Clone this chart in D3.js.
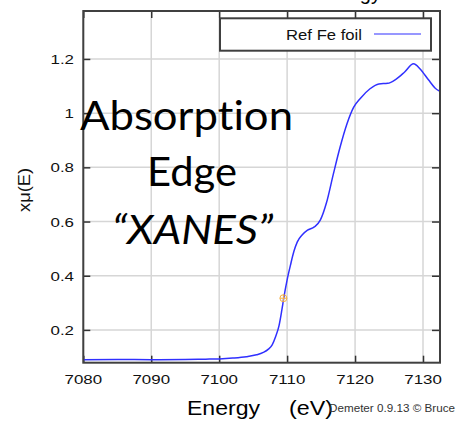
<!DOCTYPE html>
<html>
<head>
<meta charset="utf-8">
<script src="https://cdn.jsdelivr.net/npm/d3@7"></script>
<style>
  body { margin: 0; background: #fff; }
  svg { display: block; font-family: "Liberation Sans", Arial, sans-serif; }
</style>
</head>
<body>
<svg id="chart" width="456" height="423"></svg>
<script>
// energy (eV) and normalised absorption
const energy = [7080, 7085, 7090, 7095, 7098, 7100, 7102, 7104, 7105.5, 7106.5, 7107.2, 7107.8,
  7108.3, 7108.8, 7109.2, 7109.5, 7110, 7110.5, 7111, 7111.5, 7112.2, 7113, 7114, 7114.9,
  7115.8, 7116.8, 7117.8, 7118.8, 7119.8, 7120.8, 7122.2, 7123.5, 7124.8, 7126, 7127.3,
  7128.6, 7129.6, 7130.8, 7131.8, 7132.5];
const xmu = [0.090, 0.091, 0.090, 0.091, 0.092, 0.093, 0.096, 0.101, 0.108, 0.117, 0.128, 0.145,
  0.175, 0.215, 0.270, 0.317, 0.385, 0.440, 0.490, 0.525, 0.550, 0.568, 0.580, 0.606,
  0.670, 0.775, 0.875, 0.960, 1.022, 1.055, 1.090, 1.108, 1.110, 1.125, 1.152,
  1.182, 1.162, 1.123, 1.092, 1.080];
const e0 = [7109.45, 0.317];
const xTicks = [7080, 7090, 7100, 7110, 7120, 7130];
const yTicks = [0.2, 0.4, 0.6, 0.8, 1.0, 1.2];
const overlay = ['Absorption', 'Edge', '\u201cXANES\u201d'];

const svg = d3.select('#chart');
const L = 83.3, R = 440, T = 11, B = 362.7;

const x = d3.scaleLinear().domain([7080, 7132.5]).range([L, R]);
const y = d3.scaleLinear().domain([0.079, 1.377]).range([B, T]);
const fmt = d => d3.format('.1f')(d).replace('.0', '');

// grid
svg.append('g').selectAll('line').data(xTicks).join('line')
  .attr('x1', d => x(d)).attr('x2', d => x(d)).attr('y1', T).attr('y2', B)
  .attr('stroke', '#d6d6d6').attr('stroke-width', 1.5);
svg.append('g').selectAll('line').data(yTicks).join('line')
  .attr('y1', d => y(d)).attr('y2', d => y(d)).attr('x1', L).attr('x2', R)
  .attr('stroke', '#d6d6d6').attr('stroke-width', 1.5);

// inward ticks on all four sides
const tickStyle = g => {
  g.select('.domain').remove();
  g.selectAll('.tick line').attr('stroke', '#333').attr('stroke-width', 1.5);
};
svg.append('g').attr('transform', `translate(0,${B})`)
  .call(d3.axisBottom(x).tickValues(xTicks).tickSize(-7).tickFormat(''))
  .call(tickStyle);
svg.append('g').attr('transform', `translate(0,${T})`)
  .call(d3.axisTop(x).tickValues(xTicks).tickSize(-7).tickFormat(''))
  .call(tickStyle);
svg.append('g').attr('transform', `translate(${L},0)`)
  .call(d3.axisLeft(y).tickValues(yTicks).tickSize(-7).tickFormat(''))
  .call(tickStyle);
svg.append('g').attr('transform', `translate(${R},0)`)
  .call(d3.axisRight(y).tickValues(yTicks).tickSize(-8).tickFormat(''))
  .call(tickStyle);

// tick labels (slightly stretched like the reference)
svg.append('g').selectAll('text').data(xTicks).join('text')
  .attr('transform', d => `translate(${x(d)},384) scale(1.3,1)`)
  .attr('text-anchor', 'middle').attr('font-size', 13).attr('fill', '#111')
  .text(d => d);
svg.append('g').selectAll('text').data(yTicks).join('text')
  .attr('transform', d => `translate(74,${y(d) + 5}) scale(1.3,1)`)
  .attr('text-anchor', 'end').attr('font-size', 13).attr('fill', '#111')
  .text(fmt);

// curve
svg.append('defs').append('clipPath').attr('id', 'clip')
  .append('rect').attr('x', L).attr('y', T).attr('width', R - L).attr('height', B - T);
const line = d3.line().x((d, i) => x(energy[i])).y(d => y(d)).curve(d3.curveMonotoneX);
svg.append('path').datum(xmu)
  .attr('clip-path', 'url(#clip)')
  .attr('d', line)
  .attr('fill', 'none').attr('stroke', '#3030ff').attr('stroke-width', 1.5);

// E0 marker
const m = svg.append('g').attr('transform', `translate(${x(e0[0])},${y(e0[1])})`)
  .attr('stroke', '#f5b041').attr('stroke-width', 1).attr('fill', 'none');
m.append('circle').attr('r', 3.5);
m.append('line').attr('x1', -3.5).attr('x2', 3.5);
m.append('line').attr('y1', -3.5).attr('y2', 3.5);

// frame
svg.append('rect').attr('x', L).attr('y', T).attr('width', R - L).attr('height', B - T)
  .attr('fill', 'none').attr('stroke', '#404040').attr('stroke-width', 2);

// legend
const lg = svg.append('g');
lg.append('rect').attr('x', 220).attr('y', 18.3).attr('width', 211).attr('height', 32.4)
  .attr('fill', '#fff').attr('stroke', '#404040').attr('stroke-width', 2);
lg.append('text').attr('transform', 'translate(362,39.5) scale(1.15,1)')
  .attr('text-anchor', 'end').attr('font-size', 14.5).attr('fill', '#111').text('Ref Fe foil');
lg.append('line').attr('x1', 374).attr('x2', 421).attr('y1', 34).attr('y2', 34)
  .attr('stroke', '#3030ff').attr('stroke-width', 1.2);

// axis titles
svg.append('text').attr('transform', 'translate(30,190) rotate(-90)')
  .attr('text-anchor', 'middle').attr('font-size', 16).attr('fill', '#111')
  .attr('textLength', 44).attr('lengthAdjust', 'spacingAndGlyphs').text('x\u03bc(E)');
svg.append('text').attr('x', 187).attr('y', 415).attr('font-size', 20).attr('fill', '#000')
  .attr('textLength', 73).attr('lengthAdjust', 'spacingAndGlyphs').text('Energy');
svg.append('text').attr('x', 289).attr('y', 415).attr('font-size', 20).attr('fill', '#000')
  .attr('textLength', 44).attr('lengthAdjust', 'spacingAndGlyphs').text('(eV)');
svg.append('text').attr('x', 329).attr('y', 412).attr('font-size', 11).attr('fill', '#333')
  .attr('textLength', 126).attr('lengthAdjust', 'spacingAndGlyphs')
  .text('Demeter 0.9.13 \u00a9 Bruce');
// cut-off title at the very top
svg.append('text').attr('x', 381).attr('y', -0.5).attr('text-anchor', 'end')
  .attr('font-size', 20).attr('fill', '#000').text('Energy');

// overlaid slide text
const ov = svg.append('g').attr('font-family', 'Lato, "Open Sans", sans-serif').attr('fill', '#000')
  .style('font-variant-ligatures', 'none');
ov.append('text').attr('x', 80).attr('y', 130).attr('font-size', 41)
  .attr('textLength', 213).attr('lengthAdjust', 'spacingAndGlyphs').text(overlay[0]);
ov.append('text').attr('x', 147).attr('y', 186).attr('font-size', 41)
  .attr('textLength', 90).attr('lengthAdjust', 'spacingAndGlyphs').text(overlay[1]);
ov.append('text').attr('x', 112).attr('y', 244).attr('font-size', 41).attr('font-style', 'italic')
  .attr('textLength', 161).attr('lengthAdjust', 'spacingAndGlyphs').text(overlay[2]);
</script>
</body>
</html>
